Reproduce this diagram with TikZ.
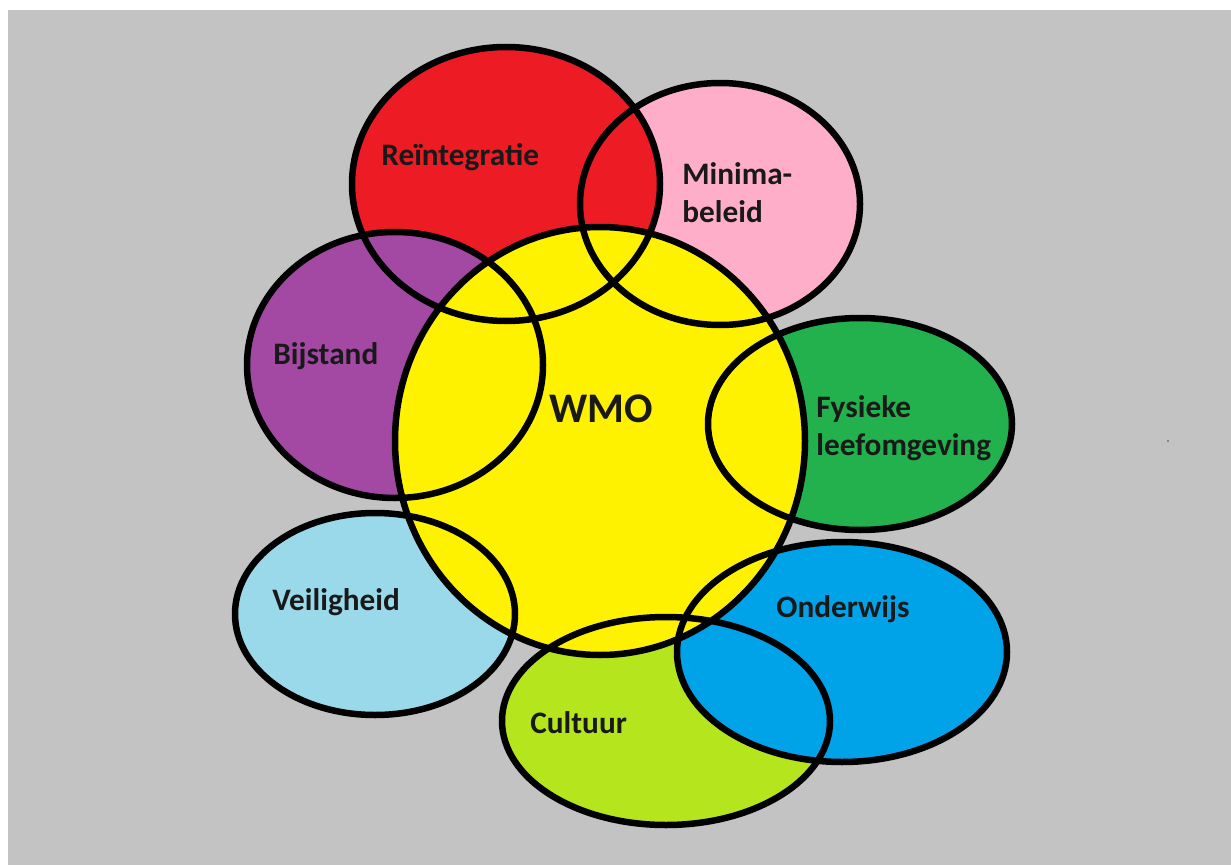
\documentclass[tikz,border=0pt]{standalone}
\usepackage{fontspec}
\setmainfont{Carlito}
\definecolor{bggray}{HTML}{C3C3C3}
\definecolor{reintred}{HTML}{ED1C24}
\definecolor{minimapink}{HTML}{FFAEC9}
\definecolor{bijstpurple}{HTML}{A349A4}
\definecolor{wmoyellow}{HTML}{FFF200}
\definecolor{fysgreen}{HTML}{22B14C}
\definecolor{veilblue}{HTML}{99D9EA}
\definecolor{cultlime}{HTML}{B5E61D}
\definecolor{onderblue}{HTML}{00A2E8}

\begin{document}
\begin{tikzpicture}[x=0.02cm, y=-0.02cm,
    rim/.style={draw=black, line width=0.13cm},
    lbl/.style={inner sep=0pt, anchor=base west, align=left, text=black!90,
        font=\fontsize{17.8}{21.6}\selectfont\bfseries}]
            \fill[white] (0,0) rectangle (1231,865);
            \fill[bggray] (8,10) rectangle (1231,865);
            \fill[black!55] (1168,441) circle [radius=1.2];
            \fill[minimapink] (720,204) ellipse [x radius=140, y radius=121];
            \fill[reintred] (506,184) ellipse [x radius=154, y radius=137];
            \fill[bijstpurple] (395,365) ellipse [x radius=148, y radius=133];
            \fill[veilblue] (375,614) ellipse [x radius=140, y radius=101];
            \fill[cultlime] (666,721) ellipse [x radius=164, y radius=104];
            \fill[onderblue] (842,652) ellipse [x radius=165, y radius=110];
            \fill[fysgreen] (860,424) ellipse [x radius=152, y radius=106];
            \fill[wmoyellow] (600,441) ellipse [x radius=205, y radius=214];
            \draw[rim] (720,204) ellipse [x radius=140, y radius=121];
            \draw[rim] (506,184) ellipse [x radius=154, y radius=137];
            \draw[rim] (395,365) ellipse [x radius=148, y radius=133];
            \draw[rim] (375,614) ellipse [x radius=140, y radius=101];
            \draw[rim] (666,721) ellipse [x radius=164, y radius=104];
            \draw[rim] (842,652) ellipse [x radius=165, y radius=110];
            \draw[rim] (860,424) ellipse [x radius=152, y radius=106];
            \draw[rim] (600,441) ellipse [x radius=205, y radius=214];
            \node[lbl] (reint) at (381,166) {Reïntegratie};
            \node[lbl] (minima) at (682,222) {Minima-\\beleid};
            \node[lbl] (bijstand) at (273,364) {Bijstand};
            \node[lbl, font=\fontsize{24}{28}\selectfont\bfseries] (wmo) at (549,422) {WMO};
            \node[lbl] (fysiek) at (816,455) {Fysieke\\leefomgeving};
            \node[lbl] (veilig) at (272,610) {Veiligheid};
            \node[lbl] (onderwijs) at (776,617) {Onderwijs};
            \node[lbl] (cultuur) at (530,733) {Cultuur};
        \end{tikzpicture}
\end{document}
